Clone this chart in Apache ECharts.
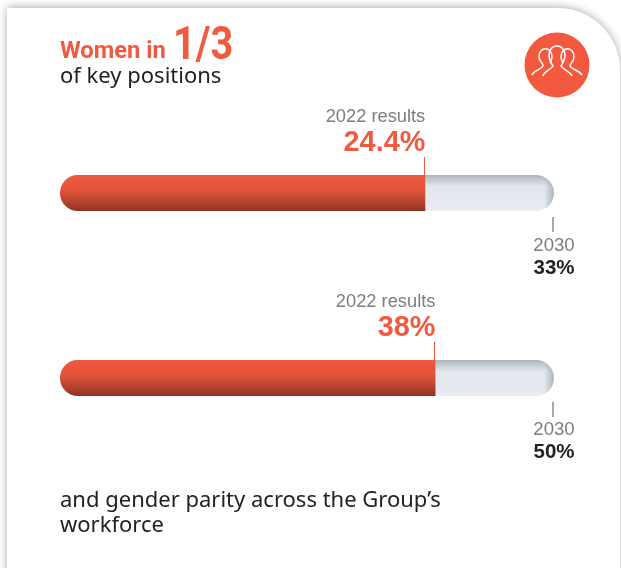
<!DOCTYPE html>
<html>
<head>
<meta charset="utf-8">
<style>
html,body{margin:0;padding:0;background:#fff}
#main{width:621px;height:568px}
</style>
<script src="https://cdn.jsdelivr.net/npm/echarts@6/dist/echarts.min.js"></script>
</head>
<body>
<div id="main"></div>
<script>
const categories = ['Women in key positions', 'Gender parity across the workforce']
const results = [24.4, 38]
const targets = [33, 50]
const resultLabels = ['24.4%', '38%']
const targetLabels = ['33%', '50%']
const resultYear = '2022 results'
const targetYear = '2030'

const RED = '#f15a3f'
const grids = [{left: 60, width: 494, top: 175, height: 36}, {left: 60, width: 494, top: 360, height: 36}]

let myChart = echarts.init(document.getElementById('main'), null, {renderer: 'canvas'})

function vert(stops){
  return new echarts.graphic.LinearGradient(0, 0, 0, 1, stops.map(c=>({offset: c[0], color: c[1]})))
}
function horiz(stops){
  return new echarts.graphic.LinearGradient(0, 0, 1, 0, stops.map(c=>({offset: c[0], color: c[1]})))
}

let series = []
results.forEach((v, i)=>{
  // track up to the 2030 target
  series.push({
    type: 'bar', xAxisIndex: i, yAxisIndex: i, barWidth: 36, barGap: '-100%', silent: true,
    data: [targets[i]],
    itemStyle: {
      borderRadius: 18,
      color: vert([[0, '#aeb3b6'], [0.12, '#c4c9cd'], [0.32, '#e2e7ee'], [0.9, '#e6ebf2'], [1, '#edf0f4']])
    }
  })
  // shading at the round end of the track
  series.push({
    type: 'bar', xAxisIndex: i, yAxisIndex: i, barWidth: 36, barGap: '-100%', silent: true,
    data: [targets[i]],
    itemStyle: {
      borderRadius: 18,
      color: horiz([[0, 'rgba(150,155,160,0)'], [0.98, 'rgba(150,155,160,0)'], [1, 'rgba(150,155,160,0.7)']])
    }
  })
  // 2022 result
  series.push({
    type: 'bar', xAxisIndex: i, yAxisIndex: i, barWidth: 36, barGap: '-100%', silent: true,
    data: [v],
    itemStyle: {
      borderRadius: [18, 0, 0, 18],
      color: vert([[0, '#ee5a40'], [0.4, '#e4533b'], [0.75, '#b5432e'], [1, '#8e3322']])
    }
  })
})

// people icon, drawn as a custom series so it can use svg paths
const iconPaths = [
  'M532 75 C534 70 541 70 543 66 C544 63 539 62 539 57 C539 46 552 46 552 57 C552 59 551 61 550 63',
  'M543 76 C544 71 551 70 553 66 C551 63 549 60 549 55 C549 43 565 43 565 55 C565 60 563 63 561 66 C563 70 570 71 572 76',
  'M563 63 C562 61 561 59 561 57 C561 46 574 46 574 57 C574 62 570 63 570 66 C572 70 579 70 582 75'
]
series.push({
  type: 'custom', coordinateSystem: 'none', silent: true, z: 30, data: [0],
  renderItem(){
    return {
      type: 'group',
      children: iconPaths.map(d=>({
        type: 'path',
        shape: {pathData: d},
        style: {stroke: '#fff', lineWidth: 1.5, fill: null}
      }))
    }
  }
})

let option = {
  animation: false,
  grid: grids,
  xAxis: targets.map((t, i)=>({type: 'value', gridIndex: i, min: 0, max: t, show: false})),
  yAxis: categories.map((c, i)=>({type: 'category', gridIndex: i, data: [c], show: false})),
  series: series
}
myChart.setOption(option)

const sans = '"Liberation Sans", Arial, sans-serif'
const din = '"Noto Sans", Roboto, sans-serif'
const rob = 'Roboto, sans-serif'
function txt(x, y, text, font, fill, align, extra){
  return Object.assign({type: 'text', x: x, y: y, z: 20, style: {text: text, font: font, fill: fill, textAlign: align || 'left', textVerticalAlign: 'middle'}}, extra || {})
}
function tick(x, y1, y2, color, w){
  return {type: 'line', z: 20, shape: {x1: x, y1: y1, x2: x, y2: y2}, style: {stroke: color, lineWidth: w || 1}}
}

let els = [
  // card behind the chart
  {type: 'rect', z: -10, shape: {x: 7, y: 8, width: 613, height: 700, r: [0, 62, 0, 0]},
    style: {fill: '#fff', shadowBlur: 9, shadowColor: 'rgba(0,0,0,0.32)', shadowOffsetX: 0, shadowOffsetY: -1}},
  txt(60, 52, 'Women in', 'bold 23.7px ' + rob, RED),
  txt(173, 47, '1/3', 'bold 46px ' + rob, RED, 'left', {scaleX: 0.86}),
  txt(60, 77, 'of key positions', '22px ' + din, '#222'),
  txt(60, 501, 'and gender parity across the Group\u2019s', '22px ' + din, '#222'),
  txt(60, 526, 'workforce', '22px ' + din, '#222'),
  {type: 'circle', z: 20, shape: {cx: 557, cy: 65, r: 32.5}, style: {fill: '#f3593e'}}
]

const lblY = [117, 302], valY = [143, 328], yearY = [246, 430], tgtY = [268, 452]
results.forEach((v, i)=>{
  let px = myChart.convertToPixel({xAxisIndex: i}, v)
  let pt = myChart.convertToPixel({xAxisIndex: i}, targets[i])
  let g = grids[i]
  els.push(tick(Math.round(px) - 0.5, g.top - 18, g.top, RED))
  els.push(txt(px, lblY[i], resultYear, '18.3px ' + sans, '#7d7d7d', 'right'))
  els.push(txt(px, valY[i], resultLabels[i], 'bold 28.8px ' + sans, RED, 'right'))
  els.push(tick(Math.round(pt) - 1, g.top + 42, g.top + 57, '#8c8c8c', 1.5))
  els.push(txt(pt, yearY[i], targetYear, '18.6px ' + sans, '#7d7d7d', 'center'))
  els.push(txt(pt, tgtY[i], targetLabels[i], 'bold 20.5px ' + sans, '#222', 'center'))
})
myChart.setOption({graphic: els})
</script>
</body>
</html>
